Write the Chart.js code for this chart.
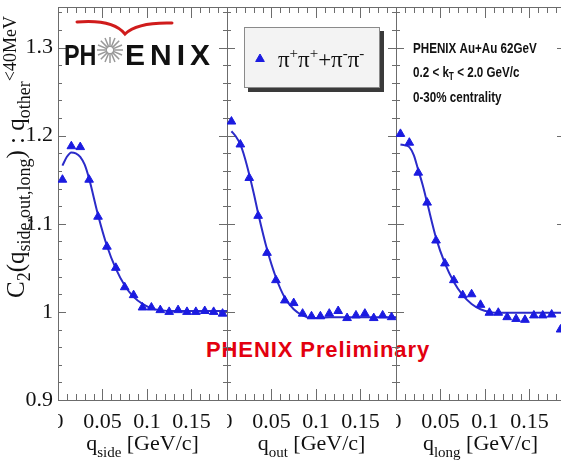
<!DOCTYPE html>
<html>
<head>
<meta charset="utf-8">
<title>C2 projections, pi+pi+ + pi-pi-, Au+Au 62 GeV</title>
<script src="https://cdn.jsdelivr.net/npm/chart.js@4.4.1/dist/chart.umd.min.js"></script>
<style>
  html, body { margin: 0; padding: 0; background: #fff; }
  #wrap { position: relative; width: 561px; height: 469px; overflow: hidden; background: #fff; }
  .pad { position: absolute; top: 0; height: 469px; }
  #prelim {
    position: absolute; left: 206px; top: 339px;
    font: bold 22px "Liberation Sans", Arial, sans-serif; line-height: 22px;
    letter-spacing: 0.9px; color: #e3000f; white-space: nowrap;
  }
</style>
</head>
<body>
<div id="wrap">
  <div id="prelim">PHENIX Preliminary</div>
  <div class="pad" style="left:0;width:228px"><canvas id="side"></canvas></div>
  <div class="pad" style="left:227px;width:170px"><canvas id="out"></canvas></div>
  <div class="pad" style="left:396px;width:170px"><canvas id="long"></canvas></div>
</div>
<script>
// q bin centres (GeV/c), same binning for all three projections
const qBins = [0.005, 0.015, 0.025, 0.035, 0.045, 0.055, 0.065, 0.075, 0.085, 0.095,
               0.105, 0.115, 0.125, 0.135, 0.145, 0.155, 0.165, 0.175, 0.185];

// measured C2, the two other q components < 40 MeV
const c2Side = [1.150, 1.188, 1.187, 1.150, 1.108, 1.074, 1.050, 1.028, 1.019, 1.005,
                1.005, 1.002, 1.000, 1.002, 1.000, 1.000, 1.001, 1.000, 0.998];
const c2Out  = [1.216, 1.190, 1.152, 1.109, 1.067, 1.036, 1.013, 1.010, 0.998, 0.995,
                0.995, 0.998, 1.001, 0.993, 0.996, 0.998, 0.993, 0.996, 0.994];
const c2Long = [1.202, 1.192, 1.158, 1.124, 1.081, 1.055, 1.036, 1.019, 1.020, 1.008,
                0.999, 0.999, 0.994, 0.992, 0.991, 0.996, 0.996, 0.997, 0.980];

// fit curves sampled along q
const fitQ    = [0.005, 0.01, 0.015, 0.02, 0.025, 0.03, 0.035, 0.045, 0.055, 0.065,
                 0.075, 0.085, 0.095, 0.105, 0.115, 0.13, 0.15, 0.17, 0.19];
const fitSide = [1.166, 1.176, 1.181, 1.180, 1.176, 1.167, 1.151, 1.110, 1.075, 1.049,
                 1.030, 1.017, 1.009, 1.004, 1.002, 1.001, 1.001, 1.001, 1.001];
const fitOut  = [1.205, 1.199, 1.190, 1.175, 1.156, 1.135, 1.112, 1.071, 1.039, 1.016,
                 1.003, 0.996, 0.993, 0.993, 0.994, 0.994, 0.994, 0.994, 0.994];
const fitLong = [1.190, 1.189, 1.187, 1.178, 1.161, 1.144, 1.124, 1.084, 1.055, 1.034,
                 1.019, 1.009, 1.003, 1.000, 0.999, 0.999, 0.999, 0.999, 0.999];

const xTickValues = [0, 0.05, 0.1, 0.15];
const xTickLabels = ["0", "0.05", "0.1", "0.15"];
const yTickValues = [0.9, 1, 1.1, 1.2, 1.3];
const yTickLabels = ["0.9", "1", "1.1", "1.2", "1.3"];

const Q_MAX = 0.19;
const C2_MIN = 0.9;
const C2_MAX = 1.346;

const MARKER = "#1b1be0";
const FIT_LINE = "#2b2bc9";
const FRAME = "#6c6c6c";
const INK = "#111";
const SERIF = '"Liberation Serif", "Times New Roman", serif';
const SANS = '"Liberation Sans", Arial, sans-serif';

// draw runs of [text, size, baselineShift] one after another (sub/superscripts)
function drawRuns(ctx, runs, x, y, family, align, weight = "") {
  let total = 0;
  for (const [t, size] of runs) {
    ctx.font = `${weight} ${size}px ${family}`;
    total += ctx.measureText(t).width;
  }
  let cx = align === "center" ? x - total / 2 : x;
  ctx.textAlign = "left";
  ctx.textBaseline = "alphabetic";
  for (const [t, size, dy] of runs) {
    ctx.font = `${weight} ${size}px ${family}`;
    ctx.fillText(t, cx, y + dy);
    cx += ctx.measureText(t).width;
  }
}

// box with inward ticks on all four sides
const framePlugin = {
  id: "frame",
  beforeDatasetsDraw(chart) {
    const { ctx, chartArea: a, scales: { x, y } } = chart;
    ctx.save();
    ctx.strokeStyle = FRAME;
    ctx.lineWidth = 1;
    ctx.beginPath();
    for (let i = 0; i / 100 <= Q_MAX + 1e-9; i++) {
      const px = Math.round(x.getPixelForValue(i / 100)) + 0.5;
      const len = i % 5 === 0 ? 11 : 6;
      ctx.moveTo(px, a.bottom); ctx.lineTo(px, a.bottom - len);
      ctx.moveTo(px, a.top); ctx.lineTo(px, a.top + len);
    }
    for (let i = 45; i / 50 <= C2_MAX + 1e-9; i++) {
      const py = Math.round(y.getPixelForValue(i / 50)) + 0.5;
      const len = i % 5 === 0 ? 8 : 4;
      ctx.moveTo(a.left, py); ctx.lineTo(a.left + len, py);
      ctx.moveTo(a.right, py); ctx.lineTo(a.right - len, py);
    }
    ctx.stroke();
    ctx.strokeRect(a.left + 0.5, a.top + 0.5, a.right - a.left, a.bottom - a.top);
    ctx.restore();
  },
};

// the first pad's "0" label sits half under the neighbouring pad
const zeroPatch = {
  id: "zeroPatch",
  beforeDatasetsDraw(chart) {
    const { ctx, chartArea: a } = chart;
    ctx.save();
    ctx.fillStyle = "#fff";
    ctx.fillRect(a.left - 14, a.bottom + 9, 14, 30);
    ctx.restore();
  },
};

function axisTitle(sub) {
  return {
    id: "qTitle",
    afterDraw(chart) {
      const { ctx, chartArea: a } = chart;
      ctx.save();
      ctx.fillStyle = INK;
      drawRuns(ctx, [["q", 22, 0], [sub, 15, 7], [" [GeV/c]", 22, 0]],
        (a.left + a.right) / 2, 450, SERIF, "center");
      ctx.restore();
    },
  };
}

const yTitlePlugin = {
  id: "yTitle",
  afterDraw(chart) {
    const ctx = chart.ctx;
    ctx.save();
    ctx.translate(24, 157);
    ctx.rotate(-Math.PI / 2);
    ctx.fillStyle = INK;
    drawRuns(ctx, [["C", 25, 0], ["2", 18, 6], ["(q", 25, 0], ["side,out,long", 18, 6],
      [") : q", 25, 0], ["other", 18, 6], ["<40MeV", 18, -8]], 0, 0, SERIF, "center");
    ctx.restore();
  },
};

const logoPlugin = {
  id: "logo",
  afterDraw(chart) {
    const ctx = chart.ctx;
    ctx.save();
    ctx.strokeStyle = "#d01c1c";
    ctx.lineWidth = 3;
    ctx.lineCap = "round";
    ctx.beginPath();
    ctx.moveTo(77, 22);
    ctx.quadraticCurveTo(113, 19, 125, 34);
    ctx.quadraticCurveTo(137, 22, 172, 23);
    ctx.stroke();

    ctx.fillStyle = INK;
    ctx.font = `bold 30px ${SANS}`;
    ctx.textBaseline = "alphabetic";
    ctx.textAlign = "left";
    ctx.save();
    ctx.translate(64, 65);
    ctx.scale(0.78, 1);
    ctx.fillText("PH", 0, 0);
    ctx.restore();
    ctx.letterSpacing = "5px";
    ctx.fillText("ENIX", 125, 65);
    ctx.letterSpacing = "0px";

    ctx.strokeStyle = "#999";
    ctx.lineWidth = 1.5;
    ctx.lineCap = "butt";
    ctx.beginPath();
    for (let k = 0; k < 16; k++) {
      const t = (k * Math.PI) / 8;
      ctx.moveTo(110 + 3 * Math.cos(t), 50 + 3 * Math.sin(t));
      ctx.lineTo(110 + 13 * Math.cos(t), 50 + 13 * Math.sin(t));
    }
    ctx.stroke();
    ctx.restore();
  },
};

const legendPlugin = {
  id: "pionLegend",
  afterDraw(chart) {
    const ctx = chart.ctx;
    const box = { x: 17, y: 27, w: 136, h: 61 };
    ctx.save();
    ctx.fillStyle = "#3a3a3a";
    ctx.fillRect(box.x + 4, box.y + 4, box.w, box.h);
    ctx.fillStyle = "#f3f3f3";
    ctx.fillRect(box.x, box.y, box.w, box.h);
    ctx.strokeStyle = "#8a8a8a";
    ctx.lineWidth = 1;
    ctx.strokeRect(box.x + 0.5, box.y + 0.5, box.w - 1, box.h - 1);

    ctx.fillStyle = MARKER;
    ctx.strokeStyle = MARKER;
    Chart.helpers.drawPoint(ctx, { pointStyle: "triangle", radius: 5, rotation: 0, borderWidth: 1 }, 33, 59);

    ctx.fillStyle = INK;
    drawRuns(ctx, [["π", 23, 0], ["+", 15, -9], ["π", 23, 0], ["+", 15, -9], ["+", 23, 0],
      ["π", 23, 0], ["-", 15, -9], ["π", 23, 0], ["-", 15, -9]], 51, 67, SERIF, "left");
    ctx.restore();
  },
};

const infoPlugin = {
  id: "runInfo",
  afterDraw(chart) {
    const ctx = chart.ctx;
    ctx.save();
    ctx.translate(17, 0);
    ctx.scale(0.83, 1);
    ctx.fillStyle = INK;
    drawRuns(ctx, [["PHENIX Au+Au 62GeV", 14, 0]], 0, 53, SANS, "left", "bold");
    drawRuns(ctx, [["0.2 < k", 14, 0], ["T", 10, 3], [" < 2.0 GeV/c", 14, 0]], 0, 77, SANS, "left", "bold");
    drawRuns(ctx, [["0-30% centrality", 14, 0]], 0, 102, SANS, "left", "bold");
    ctx.restore();
  },
};

function makePanel(id, values, fit, sub, extra, withYAxis) {
  return new Chart(document.getElementById(id), {
    type: "scatter",
    data: {
      datasets: [
        {
          label: "π+π+ + π-π-",
          data: qBins.map((q, i) => ({ x: q, y: values[i] })),
          pointStyle: "triangle",
          pointRadius: 5,
          backgroundColor: MARKER,
          borderColor: MARKER,
          borderWidth: 1,
          showLine: false,
          order: 0,
        },
        {
          label: "fit",
          type: "line",
          data: fitQ.map((q, i) => ({ x: q, y: fit[i] })),
          borderColor: FIT_LINE,
          borderWidth: 2,
          pointRadius: 0,
          cubicInterpolationMode: "monotone",
          fill: false,
          order: 1,
        },
      ],
    },
    options: {
      responsive: true,
      maintainAspectRatio: false,
      animation: false,
      events: [],
      layout: { autoPadding: false, padding: { top: 7, right: 1, left: 0, bottom: 0 } },
      plugins: { legend: { display: false }, tooltip: { enabled: false } },
      scales: {
        x: {
          type: "linear",
          min: 0,
          max: Q_MAX,
          grid: { display: false, drawTicks: false },
          border: { display: false },
          afterBuildTicks: (s) => { s.ticks = xTickValues.map((v) => ({ value: v })); },
          ticks: {
            autoSkip: false,
            maxRotation: 0,
            padding: 9,
            color: INK,
            font: { family: SERIF, size: 22, lineHeight: 1.2 },
            callback: (v, i) => xTickLabels[i],
          },
          afterFit: (s) => { s.height = 69; s.paddingLeft = 0; s.paddingRight = 0; },
        },
        y: {
          type: "linear",
          min: C2_MIN,
          max: C2_MAX,
          display: withYAxis,
          grid: { display: false, drawTicks: false },
          border: { display: false },
          afterBuildTicks: (s) => { s.ticks = yTickValues.map((v) => ({ value: v })); },
          ticks: {
            padding: 5,
            color: INK,
            font: { family: SERIF, size: 22 },
            callback: (v, i) => yTickLabels[i],
          },
          afterFit: (s) => { s.width = withYAxis ? 58 : 0; s.paddingTop = 0; s.paddingBottom = 0; },
        },
      },
    },
    plugins: [framePlugin, ...extra, axisTitle(sub)],
  });
}

makePanel("side", c2Side, fitSide, "side", [zeroPatch, yTitlePlugin, logoPlugin], true);
makePanel("out", c2Out, fitOut, "out", [legendPlugin], false);
makePanel("long", c2Long, fitLong, "long", [infoPlugin], false);
</script>
</body>
</html>
